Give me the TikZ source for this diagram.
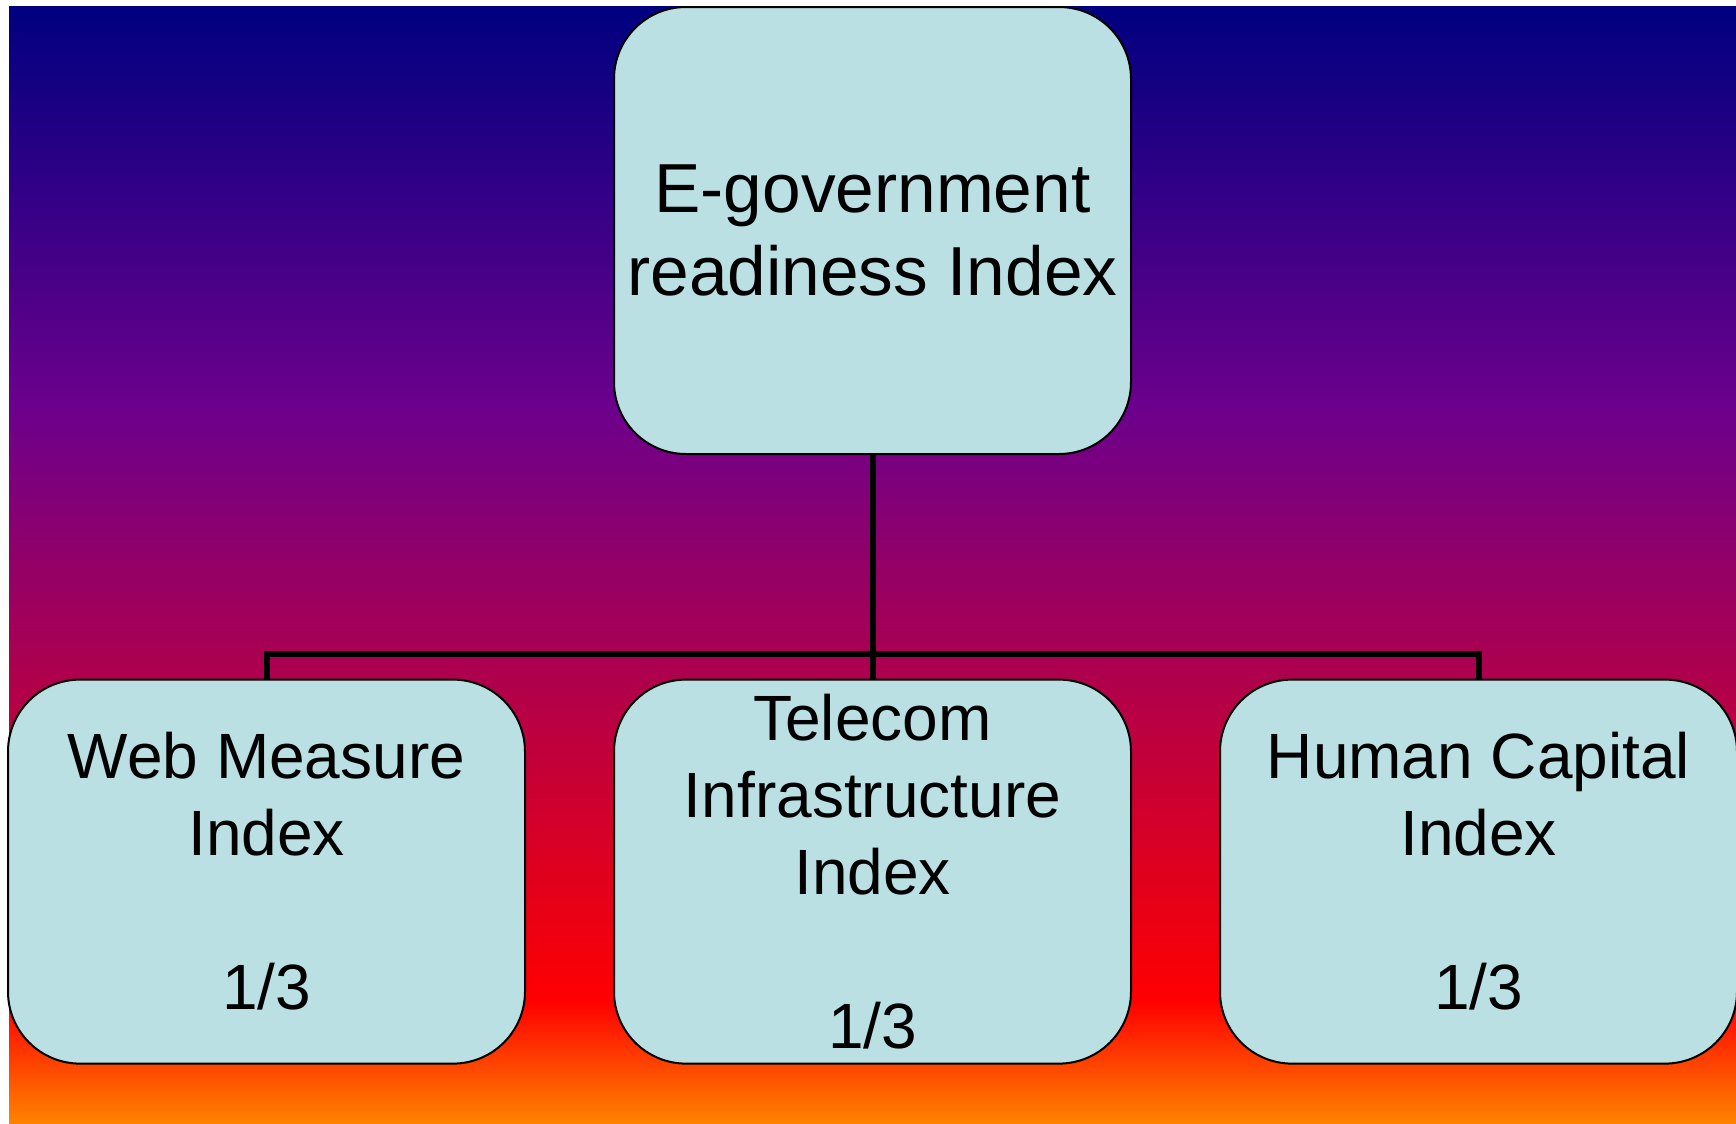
\documentclass[tikz,border=0pt]{standalone}
\usepackage{fontspec}
\setmainfont{Liberation Sans}
\usetikzlibrary{positioning}

\definecolor{boxfill}{RGB}{186,224,227}
\definecolor{navytop}{RGB}{0,0,128}
\definecolor{sunsetpurple}{RGB}{108,0,140}
\definecolor{sunsetred}{RGB}{255,0,0}
\definecolor{sunsetorange}{RGB}{255,132,0}
\pgfdeclareverticalshading{sunset}{100bp}{
  color(0bp)=(sunsetorange); color(25bp)=(sunsetorange);
  color(30.5bp)=(sunsetred); color(57bp)=(sunsetpurple);
  color(75bp)=(navytop); color(100bp)=(navytop)}

\begin{document}
\begin{tikzpicture}[node distance=111.8pt and 43.5pt,
  index box/.style={draw=black,line width=1pt,fill=boxfill,rounded corners=36pt,
    minimum width=258.5pt,inner sep=0pt,align=center},
  top index/.style={index box,minimum height=223.5pt,
    font=\fontsize{34.7pt}{41.5pt}\selectfont},
  sub index/.style={index box,minimum height=192pt,
    font=\fontsize{32pt}{38.5pt}\selectfont},
  conn/.style={line width=3pt}]
   \useasboundingbox (0,0) rectangle (868pt,-562pt);
   \shade[shading=sunset] (4.5pt,-3pt) rectangle (868pt,-562pt);
   \node[top index] (egov) at (436.25pt,-115.25pt) {E-government\\readiness Index};
   \node[sub index] (telecom) [below=of egov] {Telecom\\Infrastructure\\Index\\\mbox{}\\1/3};
   \node[sub index] (web) [left=of telecom] {Web Measure\\Index\\\mbox{}\\1/3};
   \node[sub index] (human) [right=of telecom] {Human Capital\\Index\\\mbox{}\\1/3};
   \coordinate (fork) at ([yshift=12.3pt]telecom.north);
    \draw[conn] (egov.south) -- (telecom.north);
    \draw[conn] (web.north) |- (fork) -| (human.north);
\end{tikzpicture}
\end{document}
